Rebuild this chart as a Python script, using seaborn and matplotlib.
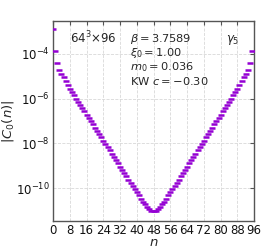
import numpy as np
import pandas as pd
import matplotlib
matplotlib.use("Agg")
import matplotlib.pyplot as plt
import seaborn as sns

# log10 |C0(n)|, n = 0..48 (the right half mirrors it)
n_left = list(range(0, 49))
log_left = [-2.90, -3.87, -4.41, -4.71, -4.90, -5.05, -5.23, -5.38, -5.55, -5.70,
            -5.86, -6.00, -6.15, -6.27, -6.42, -6.57, -6.72, -6.86, -7.01, -7.15,
            -7.30, -7.44, -7.59, -7.73, -7.88, -8.02, -8.17, -8.31, -8.46, -8.60,
            -8.75, -8.89, -9.04, -9.18, -9.33, -9.47, -9.62, -9.76, -9.91, -10.04,
            -10.18, -10.33, -10.47, -10.60, -10.73, -10.85, -10.95, -11.02, -11.04]
n_right = list(range(49, 96))
log_right = [-11.02, -10.95, -10.85, -10.73, -10.60, -10.47, -10.33, -10.18, -10.04, -9.91,
             -9.76, -9.62, -9.47, -9.33, -9.18, -9.04, -8.89, -8.75, -8.60, -8.46,
             -8.31, -8.17, -8.02, -7.88, -7.73, -7.59, -7.44, -7.30, -7.15, -7.01,
             -6.86, -6.72, -6.57, -6.42, -6.27, -6.15, -6.00, -5.86, -5.70, -5.55,
             -5.38, -5.23, -5.05, -4.90, -4.71, -4.41, -3.87]

xticks = [0, 8, 16, 24, 32, 40, 48, 56, 64, 72, 80, 88, 96]
yticks = [1e-10, 1e-8, 1e-6, 1e-4]

df = pd.DataFrame({"n": n_left + n_right,
                   "C": 10.0 ** np.array(log_left + log_right)})

sns.set_theme(style="whitegrid")
plt.rcParams["font.family"] = ["DejaVu Sans"]
plt.rcParams["mathtext.fontset"] = "dejavusans"

fig = plt.figure(figsize=(2.75, 2.5), dpi=100)
ax = fig.add_axes([0.193, 0.116, 0.731, 0.800])

color = "#9400D3"
sns.scatterplot(data=df, x="n", y="C", marker="_", s=22, linewidth=1.8,
                color=color, ax=ax, zorder=3)

ax.set_yscale("log")
ax.set_xlim(0, 96)
ax.set_ylim(10 ** -11.47, 10 ** -2.53)
ax.set_xticks(xticks)
ax.set_xticklabels([str(t) for t in xticks])
ax.set_yticks(yticks)
ax.yaxis.set_minor_locator(matplotlib.ticker.NullLocator())

ax.grid(True, color="#d8d8d8", linestyle="--", linewidth=0.6)
for sp in ax.spines.values():
    sp.set_color("#555555")
    sp.set_linewidth(1.0)
ax.tick_params(direction="in", length=3, width=0.8, color="#555555",
               top=True, right=True, labelsize=8.5, pad=2.5, labelcolor="#111111")

ax.set_xlabel("$n$", fontsize=9.5)
ax.set_ylabel("$|C_0(n)|$", fontsize=9.5)
ax.xaxis.set_label_coords(0.5, -0.075)
ax.yaxis.set_label_coords(-0.185, 0.5)

ax.text(0.085, 0.915, "64$^3$×96", transform=ax.transAxes, fontsize=8.5,
        va="center", ha="left")
tx = 0.385
for i, s in enumerate([r"$\beta = 3.7589$", r"$\xi_0 = 1.00$",
                       r"$m_0 = 0.036$", r"KW $c = -0.30$"]):
    ax.text(tx, 0.912 - i * 0.071, s, transform=ax.transAxes, fontsize=8.2,
            va="center", ha="left")
ax.text(0.86, 0.905, r"$\gamma_5$", transform=ax.transAxes, fontsize=8.5,
        va="center", ha="left")

fig.savefig("out.png", dpi=100)
